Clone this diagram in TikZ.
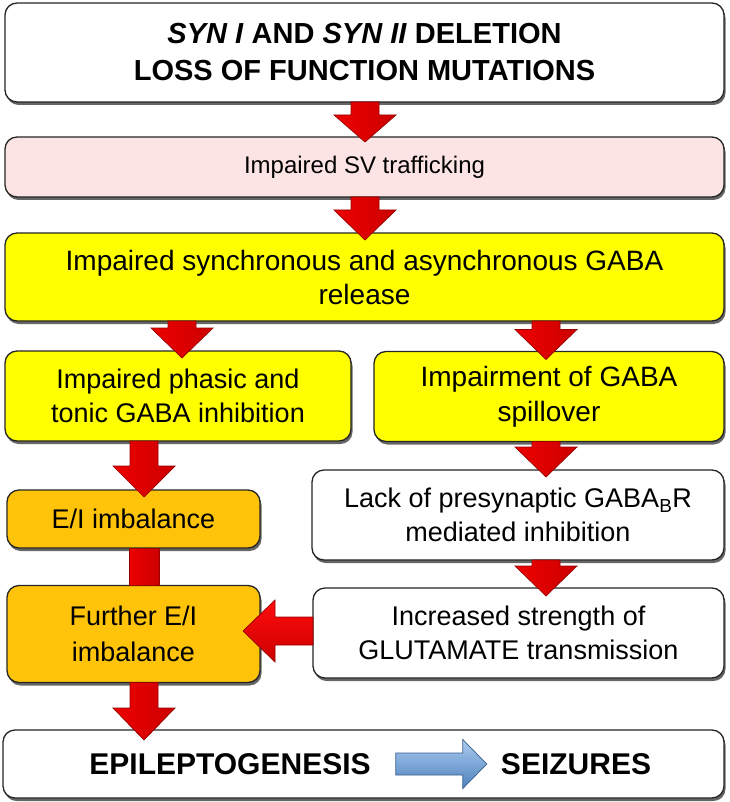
\documentclass[tikz,border=0pt]{standalone}
\usepackage{fontspec}
\setmainfont{Liberation Sans}
\usetikzlibrary{calc,shadows}
\definecolor{pinkbox}{RGB}{252,228,228}
\definecolor{yellowbox}{RGB}{255,255,0}
\definecolor{goldbox}{RGB}{255,196,10}
\definecolor{arrowred}{RGB}{255,0,0}
\definecolor{arrowdark}{RGB}{150,0,0}
\definecolor{blueA}{RGB}{170,204,240}
\definecolor{blueB}{RGB}{79,129,189}
\definecolor{blueedge}{RGB}{56,93,138}
% #1 style, #2 start, #3 end, #4 shaft half width, #5 head half width, #6 head length
\newcommand{\blockarrow}[6][]{%
  \coordinate (ba-h) at ($(#3)!#6!(#2)$);
  \path[#1] ($(#2)!#4!90:(#3)$) -- ($(ba-h)!#4!90:(#3)$) -- ($(ba-h)!#5!90:(#3)$)
    -- (#3) -- ($(ba-h)!#5!-90:(#3)$) -- ($(ba-h)!#4!-90:(#3)$) -- ($(#2)!#4!-90:(#3)$) -- cycle;}
\begin{document}
\begin{tikzpicture}[x=1pt,y=-1pt,
  box/.style={rounded corners=12pt, draw=black!85, line width=1.3pt, inner sep=0pt,
    outer sep=0pt, align=center,
    drop shadow={shadow xshift=1.5pt, shadow yshift=-3pt, fill=black!70, opacity=0.85}},
  whitebox/.style={box, fill=white},
  pinkb/.style={box, fill=pinkbox},
  yellowb/.style={box, fill=yellowbox},
  goldb/.style={box, fill=goldbox},
  txt/.style={font=\fontsize{27}{34}\selectfont},
  reddown/.style={draw=arrowdark, line width=0.7pt, left color=red!93!black, middle color=arrowred, right color=red!80!black},
  redleft/.style={draw=arrowdark, line width=0.7pt, top color=red!95!white, middle color=arrowred, bottom color=red!80!black},
  bluearr/.style={draw=blueedge, line width=0.7pt, top color=blueA, bottom color=blueB},
  redshaft/.style={draw=arrowdark, line width=0.7pt, left color=red!93!black, middle color=arrowred, right color=red!80!black}
]
\useasboundingbox (0,0) rectangle (729,802);
\fill[white] (0,0) rectangle (729,802);

% boxes
\node[whitebox, minimum width=719pt, minimum height=99pt,
  font=\bfseries\fontsize{29}{37}\selectfont] (top) at (364.5,52.5)
  {\textit{SYN I} AND \textit{SYN II} DELETION\\LOSS OF FUNCTION MUTATIONS};
\node[pinkb, minimum width=719pt, minimum height=60pt, font=\fontsize{24}{30}\selectfont]
  (sv) at (364.5,167) {Impaired SV trafficking};
\node[yellowb, minimum width=719pt, minimum height=88pt, font=\fontsize{28}{34}\selectfont]
  (gaba) at (364.5,277) {Impaired synchronous and asynchronous GABA\\release};
\node[yellowb, minimum width=346pt, minimum height=90pt, txt]
  (phasic) at (178,396) {Impaired phasic and\\tonic GABA inhibition};
\node[yellowb, minimum width=350pt, minimum height=90pt, font=\fontsize{28}{35}\selectfont]
  (spill) at (549,396.5) {Impairment of GABA\\spillover};
\node[goldb, minimum width=253pt, minimum height=58pt, txt]
  (ei) at (133.5,519) {E/I imbalance};
\node[whitebox, minimum width=412pt, minimum height=90pt, txt]
  (lack) at (518,515) {Lack of presynaptic GABA\textsubscript{B}R\\mediated inhibition};
\node[goldb, minimum width=253pt, minimum height=97pt, font=\fontsize{27}{36}\selectfont]
  (further) at (133.5,634) {Further E/I\\imbalance};
\node[whitebox, minimum width=411pt, minimum height=90pt, txt]
  (incr) at (518.5,633) {Increased strength of\\GLUTAMATE transmission};
\node[whitebox, minimum width=721pt, minimum height=68pt] (bottom) at (363.5,764) {};
\node[font=\bfseries\fontsize{30}{36}\selectfont, inner sep=0pt] (epi) at (230,764) {EPILEPTOGENESIS};
\node[font=\bfseries\fontsize{30}{36}\selectfont, inner sep=0pt] (seiz) at (576,764) {SEIZURES};

% column x positions
\coordinate (xm) at (365,0);
\coordinate (xa) at (182,0);
\coordinate (xr) at (546,0);
\coordinate (xl) at (144,0);

% arrow endpoints
\coordinate (a1s) at (top.south -| xm);
\coordinate (a1e) at ($(sv.north -| xm)+(0,5)$);
\coordinate (a2s) at (sv.south -| xm);
\coordinate (a2e) at ($(gaba.north -| xm)+(0,7)$);
\coordinate (a3s) at (gaba.south -| xa);
\coordinate (a3e) at ($(phasic.north -| xa)+(0,7)$);
\coordinate (a4s) at (gaba.south -| xr);
\coordinate (a4e) at ($(spill.north -| xr)+(0,8)$);
\coordinate (a5s) at (phasic.south -| xl);
\coordinate (a5e) at ($(ei.north -| xl)+(0,7)$);
\coordinate (a6s) at (spill.south -| xr);
\coordinate (a6e) at ($(lack.north -| xr)+(0,7)$);
\coordinate (a8s) at (lack.south -| xr);
\coordinate (a8e) at ($(incr.north -| xr)+(0,8)$);
\coordinate (a9s) at ($(incr.west)+(0,-2)$);
\coordinate (a9e) at ($(further.east |- a9s)+(-17,0)$);
\coordinate (a10s) at (further.south -| xl);
\coordinate (a10e) at ($(bottom.north -| xl)+(0,10)$);
\coordinate (b1s) at ($(epi.east)+(25,0)$);
\coordinate (b1e) at ($(seiz.west)+(-14,0)$);

% red block arrows
\blockarrow[reddown]{a1s}{a1e}{14pt}{31pt}{27pt}
\blockarrow[reddown]{a2s}{a2e}{14pt}{31pt}{30pt}
\blockarrow[reddown]{a3s}{a3e}{14pt}{31pt}{30pt}
\blockarrow[reddown]{a4s}{a4e}{14pt}{31pt}{30pt}
\blockarrow[reddown]{a5s}{a5e}{14pt}{31pt}{31pt}
\blockarrow[reddown]{a6s}{a6e}{14pt}{31pt}{30pt}
\blockarrow[reddown]{a8s}{a8e}{14pt}{31pt}{30pt}
\blockarrow[redleft]{a9s}{a9e}{14pt}{31pt}{32pt}
\blockarrow[reddown]{a10s}{a10e}{14pt}{31pt}{32pt}
% plain shaft between E/I boxes
\path[redshaft] ($(ei.south -| xl)+(-15,0)$) rectangle ($(further.north -| xl)+(15,0)$);
% blue arrow
\blockarrow[bluearr]{b1s}{b1e}{11pt}{24.5pt}{24pt}
\end{tikzpicture}
\end{document}
